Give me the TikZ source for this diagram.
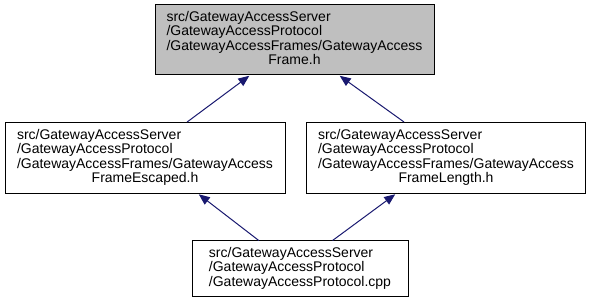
\documentclass[tikz,border=0pt]{standalone}
\usepackage{fontspec}
\setmainfont{Liberation Sans}
\usetikzlibrary{arrows.meta,calc}
\definecolor{edgeblue}{HTML}{191970}
\definecolor{focusgray}{HTML}{BFBFBF}
\newcommand{\filelabel}[4]{%
  \begin{tabular}{@{}l@{}}#1\\#2\\#3\\\multicolumn{1}{@{}c@{}}{#4}\end{tabular}}
\newcommand{\shortlabel}[3]{%
  \begin{tabular}{@{}l@{}}#1\\#2\\#3\end{tabular}}
\tikzset{
  filebox/.style={draw=black, line width=1pt, fill=white, rectangle,
    inner sep=0pt, font=\fontsize{14}{14.6}\selectfont,
    text=black},
  focusbox/.style={filebox, fill=focusgray},
  dep/.style={draw=edgeblue, line width=1pt,
    -{Triangle[length=11pt,width=9pt]}, shorten >=0.5pt}
}
\begin{document}
\begin{tikzpicture}[x=1pt,y=-1pt]
  \useasboundingbox (0,0) rectangle (592,304);
  \fill[white] (0,0) rectangle (592,304);

  \node[focusbox, minimum width=279pt, minimum height=70pt] (frame) at (294.5,40)
    {\filelabel{src/GatewayAccessServer}{/GatewayAccessProtocol}{/GatewayAccessFrames/GatewayAccess}{Frame.h}};

  \node[filebox, minimum width=280pt, minimum height=71pt] (escaped) at (145,158)
    {\filelabel{src/GatewayAccessServer}{/GatewayAccessProtocol}{/GatewayAccessFrames/GatewayAccess}{FrameEscaped.h}};

  \node[filebox, minimum width=279pt, minimum height=71pt] (length) at (446,158)
    {\filelabel{src/GatewayAccessServer}{/GatewayAccessProtocol}{/GatewayAccessFrames/GatewayAccess}{FrameLength.h}};

  \node[filebox, minimum width=216pt, minimum height=56pt] (proto) at (300,269)
    {\shortlabel{src/GatewayAccessServer}{/GatewayAccessProtocol}{/GatewayAccessProtocol.cpp}};

  % include dependencies, pointing at the included header
  \draw[dep] ($(escaped.north west)!0.65!(escaped.north east)$)
          -- ($(frame.south west)!0.34!(frame.south east)$);
  \draw[dep] ($(length.north west)!0.35!(length.north east)$)
          -- ($(frame.south west)!0.66!(frame.south east)$);
  \draw[dep] ($(proto.north west)!0.31!(proto.north east)$)
          -- ($(escaped.south west)!0.69!(escaped.south east)$);
  \draw[dep] ($(proto.north west)!0.65!(proto.north east)$)
          -- ($(length.south west)!0.32!(length.south east)$);
\end{tikzpicture}
\end{document}
